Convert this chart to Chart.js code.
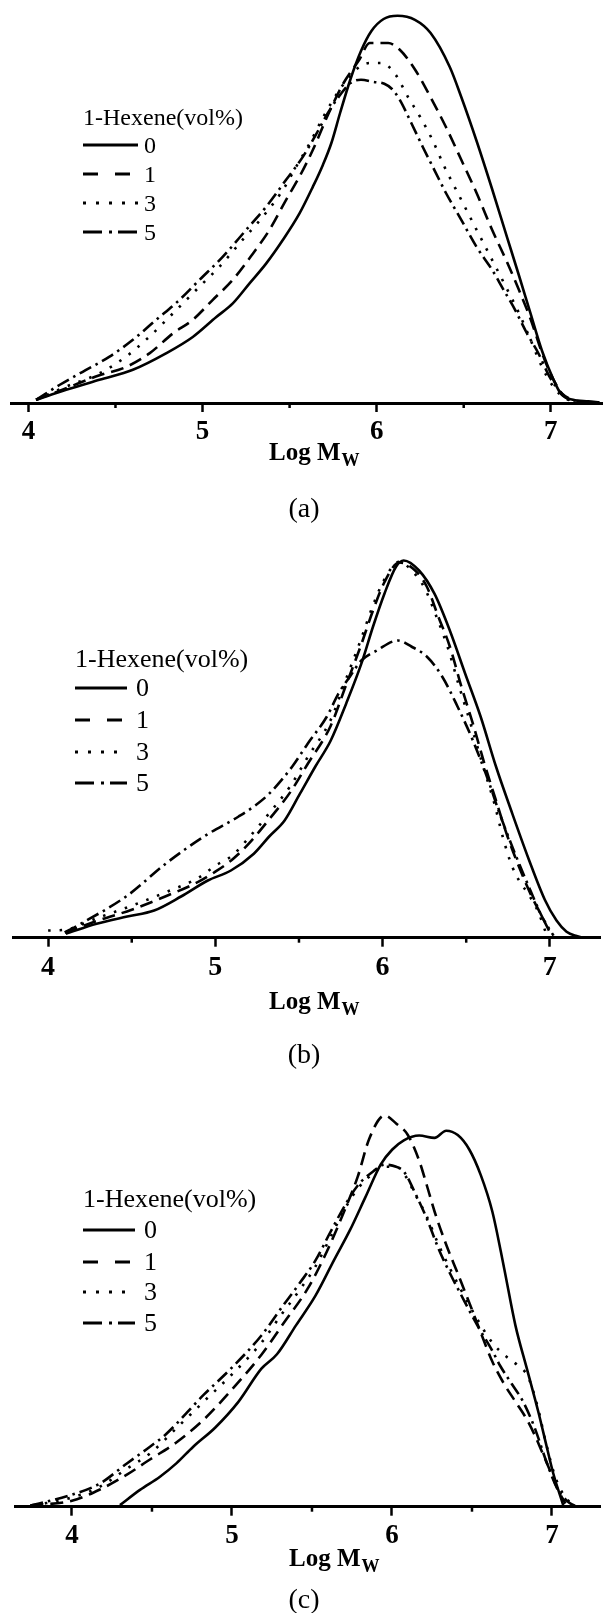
<!DOCTYPE html>
<html>
<head>
<meta charset="utf-8">
<script src="https://cdn.jsdelivr.net/npm/chart.js@4.4.0/dist/chart.umd.min.js"></script>
<style>
  body { margin: 0; background: #fff; }
  .panel { position: absolute; left: 0; width: 603px; }
</style>
</head>
<body>
<div class="panel" style="top:0;height:525px"><canvas id="chartA"></canvas></div>
<div class="panel" style="top:525px;height:545px"><canvas id="chartB"></canvas></div>
<div class="panel" style="top:1070px;height:543px"><canvas id="chartC"></canvas></div>
<script>
// --- data (Log Mw, normalised dW/dlogM) ---
const majorTicks = [4, 5, 6, 7];
const minorTicks = [4.5, 5.5, 6.5];
const seriesLabels = ["0", "1", "3", "5"];
const legendTitle = "1-Hexene(vol%)";
const axisTitle = "Log M";
const axisSub = "W";

// panel (a)
const a0 = [[4.044,0.008],[4.217,0.033],[4.408,0.058],[4.60,0.083],[4.79,0.124],[4.944,0.165],[5.079,0.215],[5.174,0.249],[5.27,0.299],[5.366,0.349],[5.462,0.408],[5.557,0.474],[5.634,0.541],[5.69,0.594],[5.74,0.65],[5.79,0.725],[5.85,0.81],[5.91,0.88],[5.97,0.93],[6.04,0.96],[6.12,0.968],[6.22,0.958],[6.31,0.925],[6.42,0.84],[6.486,0.765],[6.574,0.655],[6.663,0.535],[6.75,0.413],[6.82,0.315],[6.885,0.222],[6.95,0.13],[7.016,0.058],[7.06,0.022],[7.127,0.008],[7.215,0.004],[7.28,0.002]];
const a1 = [[4.044,0.008],[4.217,0.037],[4.40,0.068],[4.561,0.09],[4.695,0.124],[4.83,0.174],[4.944,0.208],[5.059,0.258],[5.174,0.308],[5.29,0.374],[5.385,0.433],[5.48,0.508],[5.557,0.566],[5.634,0.633],[5.72,0.72],[5.81,0.8],[5.90,0.858],[5.96,0.9],[6.066,0.9],[6.133,0.883],[6.221,0.833],[6.309,0.765],[6.398,0.69],[6.486,0.608],[6.574,0.525],[6.663,0.433],[6.751,0.35],[6.817,0.283],[6.884,0.21],[6.95,0.125],[7.016,0.058],[7.082,0.015],[7.15,0.005],[7.24,0.002]];
const a2 = [[4.044,0.008],[4.217,0.041],[4.408,0.074],[4.561,0.116],[4.695,0.166],[4.83,0.224],[4.983,0.291],[5.098,0.341],[5.23,0.408],[5.347,0.466],[5.462,0.533],[5.538,0.591],[5.615,0.649],[5.70,0.72],[5.79,0.785],[5.88,0.833],[5.96,0.85],[6.03,0.85],[6.11,0.82],[6.18,0.765],[6.25,0.715],[6.32,0.658],[6.39,0.59],[6.486,0.508],[6.574,0.433],[6.663,0.358],[6.751,0.283],[6.817,0.225],[6.884,0.158],[6.95,0.09],[7.016,0.04],[7.082,0.012],[7.15,0.004]];
const a3 = [[4.044,0.008],[4.178,0.045],[4.312,0.078],[4.466,0.116],[4.60,0.158],[4.734,0.208],[4.868,0.258],[4.983,0.308],[5.117,0.366],[5.251,0.433],[5.366,0.491],[5.48,0.558],[5.577,0.616],[5.65,0.67],[5.72,0.725],[5.79,0.77],[5.85,0.8],[5.91,0.808],[5.98,0.803],[6.044,0.798],[6.088,0.785],[6.133,0.758],[6.199,0.7],[6.265,0.64],[6.331,0.583],[6.398,0.525],[6.486,0.458],[6.574,0.39],[6.663,0.333],[6.729,0.283],[6.795,0.233],[6.862,0.175],[6.928,0.125],[6.994,0.065],[7.06,0.025],[7.127,0.008],[7.215,0.003]];

// panel (b)
const b0 = [[4.106,0.01],[4.29,0.035],[4.473,0.053],[4.634,0.068],[4.795,0.103],[4.955,0.143],[5.093,0.168],[5.23,0.21],[5.322,0.253],[5.414,0.293],[5.506,0.36],[5.598,0.428],[5.69,0.493],[5.782,0.585],[5.873,0.685],[5.943,0.778],[6.011,0.86],[6.081,0.928],[6.126,0.943],[6.218,0.918],[6.31,0.86],[6.402,0.768],[6.494,0.66],[6.586,0.553],[6.678,0.428],[6.769,0.318],[6.875,0.195],[6.97,0.095],[7.04,0.043],[7.10,0.015],[7.16,0.004],[7.2,0]];
const b1 = [[4.1,0.013],[4.3,0.043],[4.5,0.07],[4.7,0.103],[4.9,0.14],[5.0,0.165],[5.1,0.195],[5.2,0.235],[5.32,0.295],[5.45,0.365],[5.55,0.433],[5.69,0.53],[5.78,0.63],[5.87,0.73],[5.94,0.815],[6.01,0.888],[6.1,0.938],[6.195,0.918],[6.264,0.878],[6.333,0.803],[6.402,0.728],[6.471,0.628],[6.54,0.535],[6.609,0.435],[6.678,0.343],[6.747,0.253],[6.815,0.178],[6.884,0.11],[6.953,0.053],[7.01,0.005]];
const b2 = [[4.0,0.018],[4.1,0.02],[4.3,0.05],[4.5,0.08],[4.7,0.113],[4.9,0.15],[5.0,0.18],[5.1,0.205],[5.2,0.25],[5.32,0.31],[5.45,0.38],[5.55,0.45],[5.69,0.545],[5.78,0.645],[5.87,0.745],[5.94,0.828],[6.01,0.895],[6.1,0.94],[6.17,0.92],[6.25,0.875],[6.32,0.805],[6.39,0.725],[6.46,0.625],[6.53,0.53],[6.6,0.43],[6.67,0.333],[6.72,0.25],[6.77,0.183],[6.82,0.14],[6.87,0.11],[6.93,0.065],[6.98,0.008]];
const b3 = [[4.1,0.013],[4.174,0.03],[4.473,0.105],[4.703,0.185],[4.932,0.253],[5.139,0.303],[5.23,0.328],[5.322,0.36],[5.46,0.428],[5.552,0.485],[5.667,0.553],[5.736,0.61],[5.805,0.653],[5.873,0.693],[5.965,0.718],[6.092,0.743],[6.172,0.728],[6.264,0.703],[6.356,0.653],[6.448,0.578],[6.54,0.493],[6.632,0.393],[6.70,0.31],[6.792,0.21],[6.884,0.118],[6.953,0.053],[7.022,0.005]];

// panel (c)
const c0 = [[4.30,0.004],[4.425,0.042],[4.55,0.075],[4.654,0.109],[4.758,0.15],[4.896,0.198],[5.04,0.262],[5.184,0.345],[5.281,0.381],[5.401,0.454],[5.521,0.527],[5.641,0.619],[5.738,0.692],[5.834,0.774],[5.93,0.856],[6.002,0.893],[6.074,0.916],[6.17,0.928],[6.266,0.922],[6.339,0.94],[6.411,0.929],[6.483,0.893],[6.555,0.829],[6.627,0.738],[6.699,0.6],[6.771,0.454],[6.843,0.345],[6.916,0.235],[6.967,0.15],[7.008,0.083],[7.07,0.004]];
const c1 = [[3.74,0.003],[4.0,0.015],[4.175,0.043],[4.343,0.08],[4.4875,0.118],[4.65,0.16],[4.824,0.218],[4.993,0.29],[5.184,0.38],[5.33,0.463],[5.473,0.545],[5.593,0.638],[5.713,0.75],[5.786,0.825],[5.858,0.92],[5.954,0.978],[6.026,0.958],[6.098,0.93],[6.17,0.865],[6.218,0.803],[6.266,0.738],[6.339,0.655],[6.411,0.583],[6.483,0.51],[6.555,0.435],[6.627,0.363],[6.699,0.308],[6.771,0.263],[6.843,0.218],[6.891,0.18],[6.94,0.135],[6.988,0.09],[7.036,0.043],[7.084,0.008]];
const c2 = [[3.76,0.003],[4.0,0.023],[4.175,0.05],[4.343,0.095],[4.4875,0.133],[4.65,0.195],[4.824,0.263],[4.993,0.328],[5.184,0.41],[5.305,0.478],[5.425,0.543],[5.521,0.6],[5.617,0.675],[5.713,0.75],[5.786,0.795],[5.882,0.833],[5.954,0.85],[6.026,0.85],[6.074,0.833],[6.146,0.78],[6.218,0.725],[6.291,0.655],[6.363,0.595],[6.434,0.54],[6.531,0.47],[6.627,0.41],[6.70,0.38],[6.78,0.355],[6.85,0.325],[6.91,0.25],[6.96,0.163],[7.02,0.075],[7.08,0.025],[7.15,0]];
const c3 = [[3.74,0.003],[4.0,0.03],[4.175,0.058],[4.343,0.108],[4.4875,0.15],[4.584,0.18],[4.824,0.28],[4.993,0.345],[5.184,0.428],[5.305,0.495],[5.425,0.56],[5.521,0.615],[5.617,0.688],[5.713,0.758],[5.786,0.803],[5.882,0.838],[5.954,0.855],[6.026,0.85],[6.074,0.838],[6.146,0.783],[6.218,0.72],[6.291,0.645],[6.363,0.583],[6.434,0.528],[6.531,0.455],[6.627,0.39],[6.675,0.353],[6.747,0.308],[6.819,0.263],[6.891,0.198],[6.963,0.115],[7.036,0.043],[7.108,0.01],[7.156,0]];

// --- line styles: solid, dashed, dotted, dash-dot ---
const lineDash = [[], [13, 7], [2.5, 9], [13, 5, 2.5, 5]];
const legendDash = [[], [15, 17], [3, 10], [19, 7, 3, 6]];
const serif = '"Liberation Serif", "Times New Roman", serif';

// draws minor ticks, axis title, caption and legend
const panelDecor = {
  id: "panelDecor",
  afterDraw(chart, args, o) {
    const ctx = chart.ctx;
    const xs = chart.scales.x;
    const base = chart.chartArea.bottom;
    ctx.save();
    ctx.strokeStyle = "#000";
    ctx.fillStyle = "#000";
    ctx.lineWidth = 2.5;
    minorTicks.forEach(v => {
      const px = xs.getPixelForValue(v);
      ctx.beginPath();
      ctx.moveTo(px, base);
      ctx.lineTo(px, base + 5);
      ctx.stroke();
    });

    // axis title with subscript
    ctx.textBaseline = "alphabetic";
    ctx.textAlign = "left";
    ctx.font = `bold ${o.titleSize}px ${serif}`;
    ctx.fillText(axisTitle, o.titleX, o.titleY);
    const w = ctx.measureText(axisTitle).width;
    ctx.font = `bold ${Math.round(o.titleSize * 0.7)}px ${serif}`;
    ctx.fillText(axisSub, o.titleX + w + 1, o.titleY + 6);

    // caption
    ctx.font = `${o.capSize}px ${serif}`;
    ctx.textAlign = "center";
    ctx.fillText(o.caption, 304, o.capY);

    // legend
    ctx.textAlign = "left";
    ctx.font = `${o.legSize}px ${serif}`;
    ctx.fillText(legendTitle, o.legX, o.legTitleY);
    ctx.lineWidth = 2.8;
    o.rows.forEach((ry, i) => {
      ctx.setLineDash(legendDash[i]);
      ctx.beginPath();
      ctx.moveTo(o.legX, ry);
      ctx.lineTo(o.legLineEnd, ry);
      ctx.stroke();
      ctx.setLineDash([]);
      ctx.fillText(seriesLabels[i], o.legLabelX, ry + 8);
    });
    ctx.restore();
  }
};

function makePanel(id, series, p) {
  const height = document.getElementById(id).parentElement.clientHeight;
  new Chart(document.getElementById(id), {
    type: "line",
    data: {
      datasets: series.map((s, i) => ({
        label: seriesLabels[i],
        data: s.map(([x, y]) => ({ x, y })),
        borderColor: "#000",
        borderWidth: 2.6,
        borderDash: lineDash[i],
        pointRadius: 0,
        fill: false,
        cubicInterpolationMode: "monotone"
      }))
    },
    options: {
      responsive: true,
      maintainAspectRatio: false,
      animation: false,
      layout: { padding: { top: p.axisY - 400, left: p.left, right: p.right, bottom: 0 } },
      plugins: {
        legend: { display: false },
        tooltip: { enabled: false },
        panelDecor: p.decor
      },
      scales: {
        x: {
          type: "linear",
          min: p.min,
          max: p.max,
          afterBuildTicks: s => { s.ticks = majorTicks.map(v => ({ value: v })); },
          afterFit: s => { s.height = height - p.axisY; },
          ticks: {
            color: "#000",
            padding: 4,
            maxRotation: 0,
            autoSkip: false,
            font: { family: "Liberation Serif", size: p.tickSize, weight: "bold" },
            callback: v => String(v)
          },
          grid: { display: true, drawOnChartArea: false, drawTicks: true, tickLength: 9, tickWidth: 2.5, tickColor: "#000" },
          border: { display: true, color: "#000", width: 3 }
        },
        y: { display: false, min: 0, max: 1 }
      }
    },
    plugins: [panelDecor]
  });
}

makePanel("chartA", [a0, a1, a2, a3], {
  axisY: 403, left: 11, right: 0, min: 3.9, max: 7.3, tickSize: 27,
  decor: { titleX: 269, titleY: 460, titleSize: 25, caption: "(a)", capY: 517, capSize: 28,
    legX: 83, legTitleY: 125, legSize: 24, rows: [145, 174, 203, 232], legLineEnd: 138, legLabelX: 144 }
});
makePanel("chartB", [b0, b1, b2, b3], {
  axisY: 412.7, left: 13, right: 3, min: 3.79, max: 7.3, tickSize: 28,
  decor: { titleX: 269, titleY: 484, titleSize: 25, caption: "(b)", capY: 538, capSize: 28,
    legX: 75, legTitleY: 142, legSize: 26, rows: [163, 195, 227, 258], legLineEnd: 127, legLabelX: 136 }
});
makePanel("chartC", [c0, c1, c2, c3], {
  axisY: 436.7, left: 15, right: 3, min: 3.644, max: 7.3, tickSize: 27,
  decor: { titleX: 289, titleY: 496, titleSize: 25, caption: "(c)", capY: 538, capSize: 28,
    legX: 83, legTitleY: 137, legSize: 26, rows: [160, 192, 222, 253], legLineEnd: 135, legLabelX: 144 }
});
</script>
</body>
</html>
